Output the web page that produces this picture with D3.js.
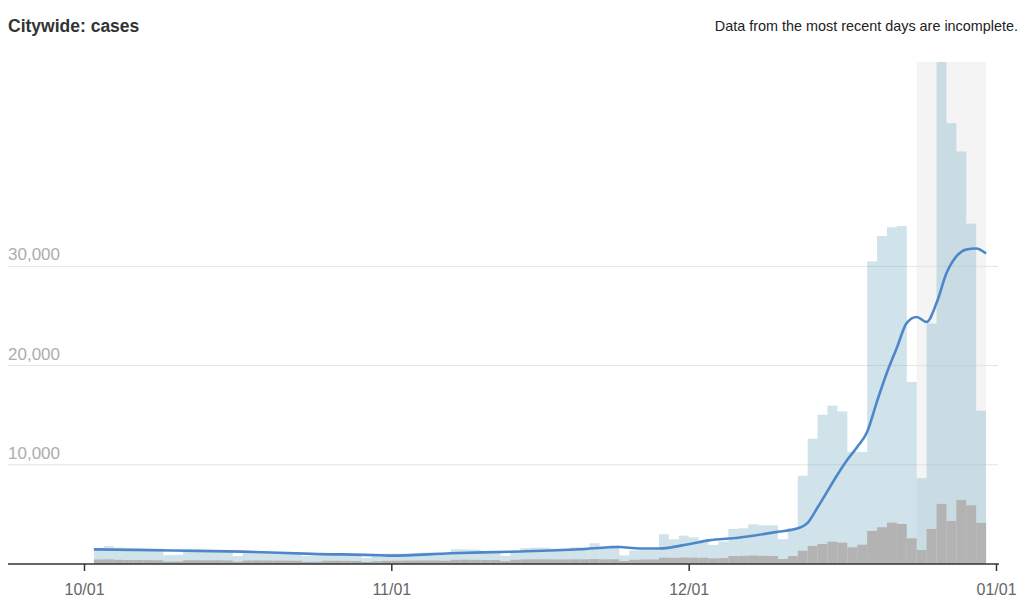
<!DOCTYPE html>
<html>
<head>
<meta charset="utf-8">
<script src="https://cdn.jsdelivr.net/npm/d3@7"></script>
<style>
    body { margin: 0; background: #fff; }
    svg { display: block; font-family: "Liberation Sans", Arial, Helvetica, sans-serif; }
</style>
</head>
<body>
<div id="chart"><svg></svg></div>
<script>
// daily bars, first bar ends 2021-10-03, last bar ends 2021-12-31
var barStart = "2021-10-03";

var cases = [
    1600, 1800, 1650, 1600, 1620, 1580, 1550, 900, 920, 1400,
    1420, 1380, 1400, 1350, 800, 1150, 1250, 1200, 1200, 1180,
    1150, 800, 820, 1100, 1100, 1050, 1000, 600, 900, 1050,
    1050, 1050, 1080, 1150, 1150, 1100, 1480, 1480, 1450, 1300,
    1300, 840, 1350, 1600, 1650, 1650, 1550, 1550, 1680, 1680,
    2090, 1750, 1880, 870, 1350, 1400, 1400, 3000, 2490, 2860,
    2690, 2390, 1920, 2260, 3530, 3600, 4000, 3900, 3900, 2500,
    3600, 8890, 12630, 15050, 15960, 15380, 11300, 11300, 30500, 33060,
    33940, 34070, 18350, 8650, 24240, 50600, 44440, 41580, 34310, 15450
];

var grayBars = [
    450, 470, 420, 400, 400, 390, 380, 250, 260, 380,
    380, 370, 380, 360, 230, 350, 360, 350, 340, 340,
    330, 220, 230, 330, 330, 320, 310, 200, 280, 320,
    330, 340, 350, 360, 360, 330, 420, 430, 420, 400,
    400, 280, 420, 460, 470, 470, 460, 460, 470, 470,
    500, 470, 480, 300, 420, 450, 460, 640, 620, 650,
    640, 620, 560, 600, 800, 820, 850, 820, 800, 500,
    800, 1340, 1820, 2020, 2250, 2150, 1680, 1950, 3330, 3700,
    4170, 4040, 2590, 1410, 3530, 6060, 4340, 6460, 5920, 4140
];

// smoothed average
var avgDates = ["2021-10-02", "2021-10-10", "2021-10-17", "2021-10-24", "2021-10-31",
    "2021-11-01", "2021-11-07", "2021-11-13", "2021-11-20", "2021-11-24",
    "2021-11-26", "2021-11-28", "2021-12-01", "2021-12-03", "2021-12-06",
    "2021-12-10", "2021-12-12", "2021-12-13", "2021-12-14", "2021-12-15",
    "2021-12-16", "2021-12-17", "2021-12-18", "2021-12-19", "2021-12-20",
    "2021-12-21", "2021-12-22", "2021-12-23", "2021-12-24", "2021-12-25",
    "2021-12-26", "2021-12-27", "2021-12-28", "2021-12-29", "2021-12-30",
    "2021-12-31"];
var avgValues = [1480, 1360, 1250, 1020, 880,
    840, 1080, 1240, 1480, 1720,
    1560, 1560, 2000, 2380, 2650,
    3250, 3600, 4150, 5700, 7350,
    9000, 10500, 11800, 13300, 16400,
    19300, 21800, 24300, 24900, 24400,
    26300, 29300, 31000, 31700, 31800,
    31300];

var xTicks = ["2021-10-01", "2021-11-01", "2021-12-01", "2022-01-01"];
var yTicks = [10000, 20000, 30000];
var incompleteFrom = "2021-12-24",
    incompleteTo = "2021-12-31";

var width = 1024,
    height = 608,
    margin = { top: 62, bottom: 44, left: 84, right: 28 };

var parse = d3.utcParse("%Y-%m-%d");

var barData = cases.map(function(v, i) {
    return {
        date: d3.utcDay.offset(parse(barStart), i),
        cases: v,
        gray: grayBars[i]
    };
});
var avgData = avgDates.map(function(d, i) {
    return { date: parse(d), value: avgValues[i] };
});

var svg = d3.select("#chart svg")
    .attr("width", width)
    .attr("height", height);

var xScale = d3.scaleUtc()
    .domain([parse(xTicks[0]), parse(xTicks[xTicks.length - 1])])
    .range([margin.left, width - margin.right]);

var yScale = d3.scaleLinear()
    .domain([0, d3.max(cases)])
    .range([height - margin.bottom, margin.top]);

var baseY = yScale(0);

// shaded "incomplete" period
svg.append("rect")
    .attr("x", xScale(parse(incompleteFrom)))
    .attr("y", margin.top)
    .attr("width", xScale(parse(incompleteTo)) - xScale(parse(incompleteFrom)))
    .attr("height", baseY - margin.top)
    .style("fill", "#f4f4f4");

// gridlines + labels
var grid = svg.append("g").attr("id", "gridG");
grid.selectAll("line")
    .data(yTicks)
    .enter()
    .append("line")
    .attr("x1", 8)
    .attr("x2", 998)
    .attr("y1", function(d){ return yScale(d); })
    .attr("y2", function(d){ return yScale(d); })
    .style("stroke", "#e4e4e4")
    .style("stroke-width", "1px");
grid.selectAll("text")
    .data(yTicks)
    .enter()
    .append("text")
    .attr("x", 8)
    .attr("y", function(d){ return yScale(d) - 6; })
    .style("font-size", "17px")
    .style("fill", "#adadad")
    .text(d3.format(","));

function barX(d) { return xScale(d3.utcDay.offset(d.date, -1)); }
function barW(d) { return xScale(d.date) - barX(d); }

svg.append("g").attr("id", "casesG")
    .selectAll("rect")
    .data(barData)
    .enter()
    .append("rect")
    .attr("x", barX)
    .attr("width", barW)
    .attr("y", function(d){ return yScale(d.cases); })
    .attr("height", function(d){ return baseY - yScale(d.cases); })
    .style("fill", "rgb(124,177,197)")
    .style("fill-opacity", 0.36);

svg.append("g").attr("id", "grayG")
    .selectAll("rect")
    .data(barData)
    .enter()
    .append("rect")
    .attr("x", barX)
    .attr("width", barW)
    .attr("y", function(d){ return yScale(d.gray); })
    .attr("height", function(d){ return baseY - yScale(d.gray); })
    .style("fill", "#b3b3b3");

// x axis
svg.append("line")
    .attr("x1", 8)
    .attr("x2", 999)
    .attr("y1", baseY)
    .attr("y2", baseY)
    .style("stroke", "#333")
    .style("stroke-width", "1.5px");

var xAxisG = svg.append("g")
    .attr("id", "xAxisG")
    .attr("transform", "translate(0," + baseY + ")")
    .call(d3.axisBottom(xScale)
        .tickValues(xTicks.map(parse))
        .tickFormat(d3.utcFormat("%m/%d"))
        .tickSize(7)
        .tickPadding(13));
xAxisG.select(".domain").remove();
xAxisG.selectAll(".tick line")
    .style("stroke", "#333")
    .style("stroke-width", "1.5px");
xAxisG.selectAll(".tick text")
    .style("font-family", "\"Liberation Sans\", Arial, Helvetica, sans-serif")
    .style("font-size", "16px")
    .style("fill", "#666");

// average line
var line = d3.line()
    .x(function(d){ return xScale(d.date); })
    .y(function(d){ return yScale(d.value); })
    .curve(d3.curveMonotoneX);

svg.append("path")
    .datum(avgData)
    .attr("d", line)
    .style("fill", "none")
    .style("stroke", "#4e87c9")
    .style("stroke-width", "2.6px")
    .style("stroke-linejoin", "round");

// titles
svg.append("text")
    .attr("x", 8)
    .attr("y", 32)
    .style("font-size", "17.5px")
    .style("font-weight", "bold")
    .style("fill", "#333")
    .text("Citywide: cases");

svg.append("text")
    .attr("x", 1018)
    .attr("y", 31)
    .attr("text-anchor", "end")
    .style("font-size", "14.4px")
    .style("fill", "#222")
    .text("Data from the most recent days are incomplete.");
</script>
</body>
</html>
